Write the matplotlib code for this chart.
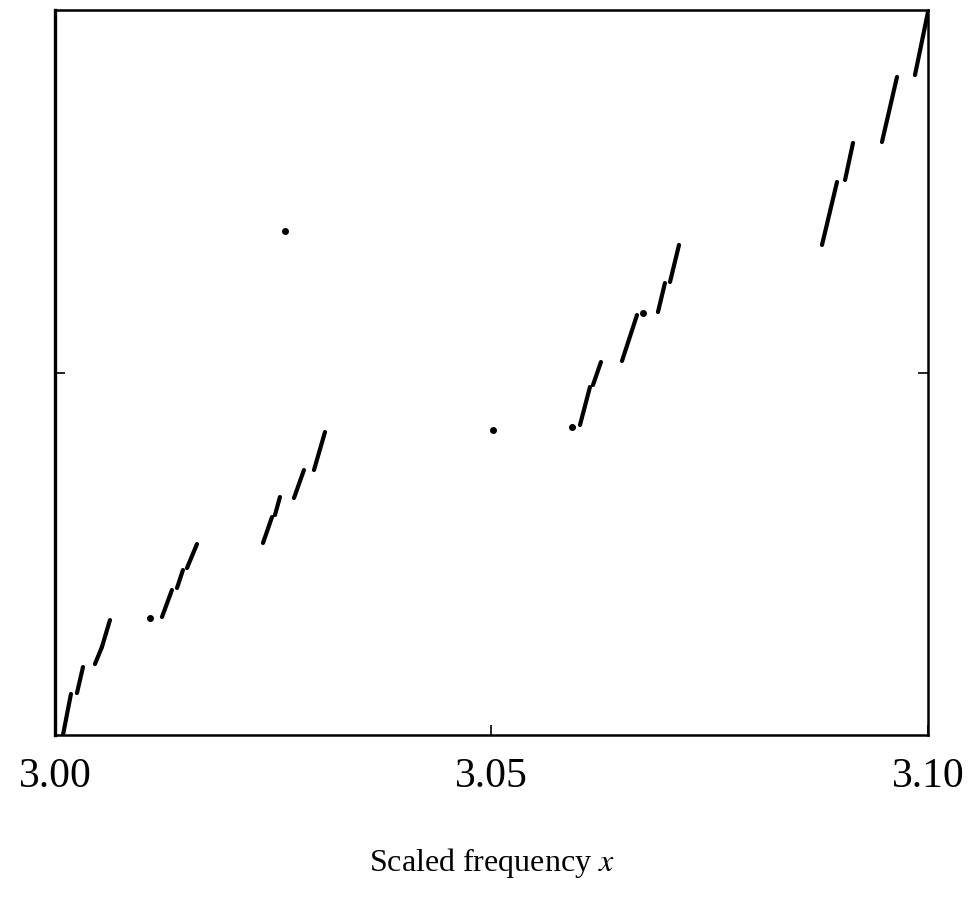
import matplotlib.pyplot as plt
import numpy as np

plt.rcParams['mathtext.fontset'] = 'stix'

# short segments of the curve: start/end in x (scaled frequency) and y (0..1)
seg_x0 = [3.00092, 3.00252, 3.00458, 3.00538, 3.01226, 3.01398, 3.01512,
          3.02383, 3.02520, 3.02738, 3.02967,
          3.06014, 3.06163, 3.06495, 3.06907, 3.07045,
          3.08786, 3.09050, 3.09473, 3.09851]
seg_x1 = [3.00183, 3.00321, 3.00538, 3.00630, 3.01340, 3.01466, 3.01627,
          3.02486, 3.02577, 3.02852, 3.03093,
          3.06128, 3.06254, 3.06667, 3.06987, 3.07148,
          3.08958, 3.09141, 3.09645, 3.10000]
seg_y0 = [0.0000, 0.0579, 0.0979, 0.1214, 0.1628, 0.2028, 0.2303,
          0.2648, 0.3034, 0.3269, 0.3655,
          0.4276, 0.4828, 0.5159, 0.5834, 0.6248,
          0.6759, 0.7655, 0.8179, 0.9103]
seg_y1 = [0.0566, 0.0938, 0.1214, 0.1586, 0.2000, 0.2276, 0.2634,
          0.3007, 0.3283, 0.3655, 0.4179,
          0.4800, 0.5145, 0.5793, 0.6234, 0.6759,
          0.7628, 0.8166, 0.9076, 0.9972]

# isolated points
dot_x = [3.01088, 3.02635, 3.05017, 3.05922, 3.06735]
dot_y = [0.1614, 0.6952, 0.4207, 0.4248, 0.5821]

fig = plt.figure(figsize=(9.71, 9.0), dpi=100)
ax = fig.add_axes([0.0566, 0.1833, 0.8991, 0.8056])

for a, b, c, d in zip(seg_x0, seg_x1, seg_y0, seg_y1):
    ax.plot([a, b], [c, d], color='black', lw=3.0, solid_capstyle='round')
ax.plot(dot_x, dot_y, 'o', color='black', ms=4)

ax.set_xlim(3.0, 3.1)
ax.set_ylim(0, 1)
ax.set_xticks([3.00, 3.05, 3.10])
ax.set_xticklabels(['3.00', '3.05', '3.10'], family='Liberation Serif', fontsize=30)
ax.set_yticks([0.5])
ax.set_yticklabels([])
ax.tick_params(direction='in', length=7, width=1.2, right=True, pad=16)
for s in ax.spines.values():
    s.set_linewidth(1.8)
ax.spines['left'].set_linewidth(2.4)

ax.set_xlabel(r'Scaled frequency $x$', family='Liberation Serif', fontsize=23,
              labelpad=36)

fig.savefig('out.png', dpi=100)
